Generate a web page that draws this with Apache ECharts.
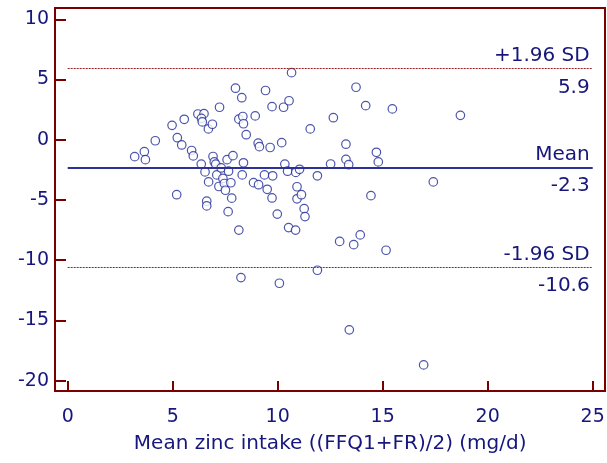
<html>
<head>
<title>Bland-Altman zinc</title>
<script src="https://cdn.jsdelivr.net/npm/echarts@6/dist/echarts.min.js"></script>
</head>
<body style="margin:0">
<div id="container" style="width:607px;height:463px"></div>
<script type="text/javascript">
// mean of the two methods (mg/d)
var meanZinc = [3.19,3.65,3.70,4.17,4.97,5.55,5.22,5.43,5.19,5.90,5.98,6.20,6.49,6.37,6.41,6.70,6.89,7.23,6.36,6.54,
	6.71,6.62,6.62,6.92,6.98,7.05,7.10,7.31,7.39,7.20,7.46,7.51,7.66,7.59,7.87,7.77,7.81,7.64,7.99,8.29,
	8.15,8.34,8.37,8.50,8.37,8.31,8.15,8.93,8.85,9.09,9.07,9.13,9.42,9.37,9.50,9.73,9.73,9.64,9.76,9.98,
	10.28,10.54,10.66,10.19,10.34,10.47,10.86,11.04,10.92,10.92,11.13,11.26,11.30,10.52,10.85,11.55,11.89,13.73,14.19,15.46,
	12.65,18.70,13.25,13.25,13.38,12.52,14.70,14.79,17.41,14.44,13.93,12.95,13.62,15.16,11.89,13.41,16.95,8.25,10.08];
// difference between the two methods
var diffZinc = [-1.40,-0.99,-1.65,-0.08,1.20,1.70,0.17,-0.43,-4.56,-0.89,-1.34,2.14,2.17,1.78,1.48,0.90,1.29,2.70,-2.02,-2.67,
	-3.50,-5.10,-5.49,-1.39,-1.84,-2.03,-2.92,-2.34,-3.21,-3.88,-3.63,-4.19,-2.61,-1.65,-1.32,-3.57,-4.85,-5.97,4.28,3.49,
	1.71,1.93,1.33,0.42,-1.91,-2.92,-7.50,1.98,-3.56,-3.73,-0.28,-0.57,4.09,-2.92,-4.11,-4.83,2.75,-0.64,-2.99,-6.17,
	2.70,3.24,5.57,-0.24,-2.02,-2.61,-2.71,-2.45,-3.90,-4.90,-4.56,-5.72,-6.38,-7.29,-7.50,0.90,-2.99,4.36,2.83,2.56,
	1.83,2.03,-0.37,-1.63,-2.07,-2.01,-1.04,-1.84,-3.50,-4.64,-7.90,-8.44,-8.71,-9.17,-10.83,-15.78,-18.69,-11.44,-11.91];
var refNames = ['+1.96 SD', 'Mean', '-1.96 SD'];
var refValues = [5.9, -2.3, -10.6];
var xTicks = [0, 25, 5];
var yTicks = [-20, 10, 5];

var navy = '#16167c';
var frameRed = '#7a0000';
var font = 'DejaVu Sans';

var points = [];
for (var i = 0; i < meanZinc.length; i++) {
	points.push([meanZinc[i], diffZinc[i]]);
}

var refLines = [];
for (var k = 0; k < refValues.length; k++) {
	var isMean = refNames[k] === 'Mean';
	var style = isMean
		? { color: '#2b3196', width: 2, type: 'solid' }
		: { color: '#9a2020', width: 1, type: [2, 1] };
	refLines.push({
		yAxis: refValues[k],
		lineStyle: style,
		label: { show: true, position: 'insideEndTop', formatter: refNames[k], distance: [3, -7] }
	});
	refLines.push({
		yAxis: refValues[k],
		lineStyle: { color: 'rgba(0,0,0,0)', width: 0 },
		label: { show: true, position: 'insideEndBottom', formatter: String(refValues[k]), distance: [3, -1] }
	});
}

var dom = document.getElementById("container");
var myChart = echarts.init(dom);
var option = {
	animation: false,
	backgroundColor: '#fff',
	textStyle: { fontFamily: font },
	graphic: [{
		type: 'rect',
		shape: { x: 55, y: 8, width: 550, height: 383 },
		style: { fill: 'none', stroke: frameRed, lineWidth: 2 },
		silent: true
	}],
	grid: { left: 67.7, right: 14.3, top: 19.3, bottom: 82.3, containLabel: false, outerBoundsMode: 'none' },
	xAxis: {
		type: 'value',
		min: xTicks[0], max: xTicks[1], interval: xTicks[2],
		offset: 10.3,
		name: 'Mean zinc intake ((FFQ1+FR)/2) (mg/d)',
		nameLocation: 'middle',
		nameGap: 33,
		nameMoveOverlap: false,
		nameTextStyle: { color: navy, fontSize: 20, fontFamily: font },
		axisLine: { show: false, onZero: false },
		axisTick: { show: true, inside: true, length: 10, lineStyle: { color: frameRed, width: 2 } },
		axisLabel: { color: navy, fontSize: 19, fontFamily: font, margin: 7 },
		splitLine: { show: false }
	},
	yAxis: {
		type: 'value',
		min: yTicks[0], max: yTicks[1], interval: yTicks[2],
		offset: 12.7,
		axisLine: { show: false, onZero: false },
		axisTick: { show: true, inside: true, length: 11, lineStyle: { color: frameRed, width: 2 } },
		axisLabel: { color: navy, fontSize: 19, fontFamily: font, margin: 6 },
		splitLine: { show: false }
	},
	series: [{
		type: 'scatter',
		data: points,
		symbol: 'circle',
		symbolSize: 8.5,
		itemStyle: { color: '#fff', borderColor: '#1f2a96', borderWidth: 1.2 },
		markLine: {
			silent: true,
			symbol: 'none',
			label: { color: navy, fontSize: 20, fontFamily: font },
			data: refLines
		}
	}]
};
myChart.setOption(option);
</script>
</body>
</html>
